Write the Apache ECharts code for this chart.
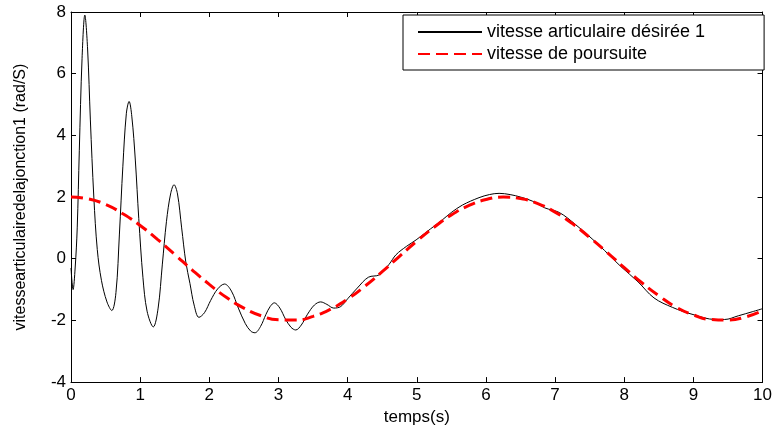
<!DOCTYPE html>
<html>
<head>
<meta charset="utf-8">
<title>vitesse articulaire</title>
<script src="https://cdn.jsdelivr.net/npm/echarts@6/dist/echarts.min.js"></script>
<style>
  html, body { margin: 0; padding: 0; background: #fff; }
  #main { width: 775px; height: 431px; }
</style>
</head>
<body>
<div id="main"></div>
<script>
// vitesse articulaire désirée 1 (courbe noire)
var tDesiree = [0, 0.03, 0.06, 0.09, 0.12, 0.16, 0.2, 0.24, 0.28, 0.33, 0.38, 0.44, 0.52, 0.59, 0.65,
  0.7, 0.75, 0.8, 0.84, 0.88, 0.93, 0.98, 1.04, 1.1, 1.19, 1.26, 1.32, 1.38, 1.44, 1.49, 1.54, 1.6,
  1.66, 1.72, 1.78, 1.85, 1.93, 2.02, 2.12, 2.22, 2.32, 2.42, 2.52, 2.6, 2.66, 2.74, 2.82, 2.88, 2.94,
  3.02, 3.1, 3.18, 3.25, 3.33, 3.42, 3.52, 3.61, 3.7, 3.8, 3.9, 4.0, 4.14, 4.3, 4.46, 4.6, 4.7, 4.85,
  4.99, 5.2, 5.37, 5.5, 5.66, 5.9, 6.05, 6.19, 6.35, 6.5, 6.67, 6.85, 7.06, 7.3, 7.63, 7.95, 8.2, 8.43,
  8.7, 8.98, 9.32, 9.45, 9.65, 9.85, 10];
var vDesiree = [-0.3, -1.0, -0.3, 1.0, 3.5, 6.5, 7.9, 6.8, 4.5, 2.0, 0.3, -0.7, -1.4, -1.68, -1.1,
  0.8, 3.0, 4.7, 5.1, 4.6, 3.2, 1.3, -0.6, -1.7, -2.21, -1.6, -0.2, 1.2, 2.1, 2.4, 2.1, 1.0,
  -0.1, -0.8, -1.5, -1.9, -1.75, -1.35, -0.98, -0.82, -1.05, -1.6, -2.1, -2.35, -2.4, -2.2, -1.8, -1.55, -1.43,
  -1.6, -1.95, -2.22, -2.31, -2.15, -1.8, -1.5, -1.4, -1.48, -1.6, -1.55, -1.3, -0.95, -0.6, -0.52, -0.18, 0.13, 0.4,
  0.61, 0.97, 1.26, 1.5, 1.74, 1.98, 2.08, 2.12, 2.08, 2.0, 1.87, 1.65, 1.5, 1.1, 0.45, -0.25, -0.75, -1.27,
  -1.58, -1.8, -1.97, -1.97, -1.85, -1.72, -1.62];

// vitesse de poursuite (tirets rouges)
var tPoursuite = [0, 0.25, 0.5, 0.75, 1, 1.25, 1.5, 1.75, 2, 2.25, 2.5, 2.75, 3, 3.25, 3.5, 3.75, 4,
  4.25, 4.5, 4.75, 5, 5.25, 5.5, 5.75, 6, 6.25, 6.5, 6.75, 7, 7.25, 7.5, 7.75, 8, 8.25, 8.5, 8.75,
  9, 9.25, 9.5, 9.75, 10];
var vPoursuite = [2.0, 1.94, 1.76, 1.46, 1.08, 0.63, 0.14, -0.36, -0.83, -1.26, -1.6, -1.85, -1.98,
  -1.99, -1.87, -1.64, -1.31, -0.89, -0.42, 0.08, 0.57, 1.02, 1.42, 1.72, 1.92, 2.0, 1.95, 1.79,
  1.51, 1.14, 0.69, 0.21, -0.29, -0.77, -1.2, -1.57, -1.82, -1.97, -1.99, -1.89, -1.68];

var xTicks = [0, 10, 1];   // min, max, pas
var yTicks = [-4, 8, 2];

var fontFam = '"Liberation Sans", Arial, sans-serif';

function pairs(xs, ys) {
  return xs.map(function (x, i) { return [x, ys[i]]; });
}

var myChart = echarts.init(document.getElementById('main'));

// axe "boîte" façon matlab : graduations vers l'intérieur sur les 4 côtés
function boxAxis(pos, lim, labels) {
  return {
    type: 'value',
    position: pos,
    min: lim[0],
    max: lim[1],
    interval: lim[2],
    axisLine: { show: true, onZero: false, lineStyle: { color: '#000', width: 1 } },
    axisTick: { show: true, inside: true, length: 5, lineStyle: { color: '#000' } },
    axisLabel: { show: labels, color: '#000', fontSize: 17, fontFamily: fontFam, margin: 5 },
    splitLine: { show: false }
  };
}

var xBottom = boxAxis('bottom', xTicks, true);
xBottom.name = 'temps(s)';
xBottom.nameLocation = 'middle';
xBottom.nameGap = 21;
xBottom.nameTextStyle = { color: '#000', fontSize: 17, fontFamily: fontFam };

var yLeft = boxAxis('left', yTicks, true);
yLeft.name = 'vitessearticulairedelajonction1 (rad/S)';
yLeft.nameLocation = 'middle';
yLeft.nameGap = 42;
yLeft.nameTextStyle = { color: '#000', fontSize: 16, fontFamily: fontFam };

var option = {
  animation: false,
  backgroundColor: '#fff',
  grid: { left: 71, top: 12, right: 11, bottom: 47, containLabel: false },
  legend: {
    left: 403,
    top: 15,
    orient: 'vertical',
    backgroundColor: '#fff',
    borderColor: '#000',
    borderWidth: 1,
    borderRadius: 0,
    padding: [8, 59, 7, 14],
    itemGap: 4,
    itemWidth: 64,
    itemHeight: 14,
    // pas de rond au milieu du trait
    itemStyle: { opacity: 0 },
    textStyle: { color: '#000', fontSize: 18, fontFamily: fontFam, lineHeight: 17 },
    data: ['vitesse articulaire désirée 1', 'vitesse de poursuite']
  },
  xAxis: [xBottom, boxAxis('top', xTicks, false)],
  yAxis: [yLeft, boxAxis('right', yTicks, false)],
  series: [
    {
      name: 'vitesse articulaire désirée 1',
      type: 'line',
      smooth: 0.35,
      symbol: 'none',
      lineStyle: { color: '#000', width: 1 },
      itemStyle: { color: '#000' },
      data: pairs(tDesiree, vDesiree)
    },
    {
      name: 'vitesse de poursuite',
      type: 'line',
      smooth: true,
      symbol: 'none',
      lineStyle: { color: '#ff0000', width: 3, type: [12, 6] },
      itemStyle: { color: '#ff0000' },
      data: pairs(tPoursuite, vPoursuite)
    }
  ]
};

myChart.setOption(option);
window.onresize = myChart.resize;
</script>
</body>
</html>
